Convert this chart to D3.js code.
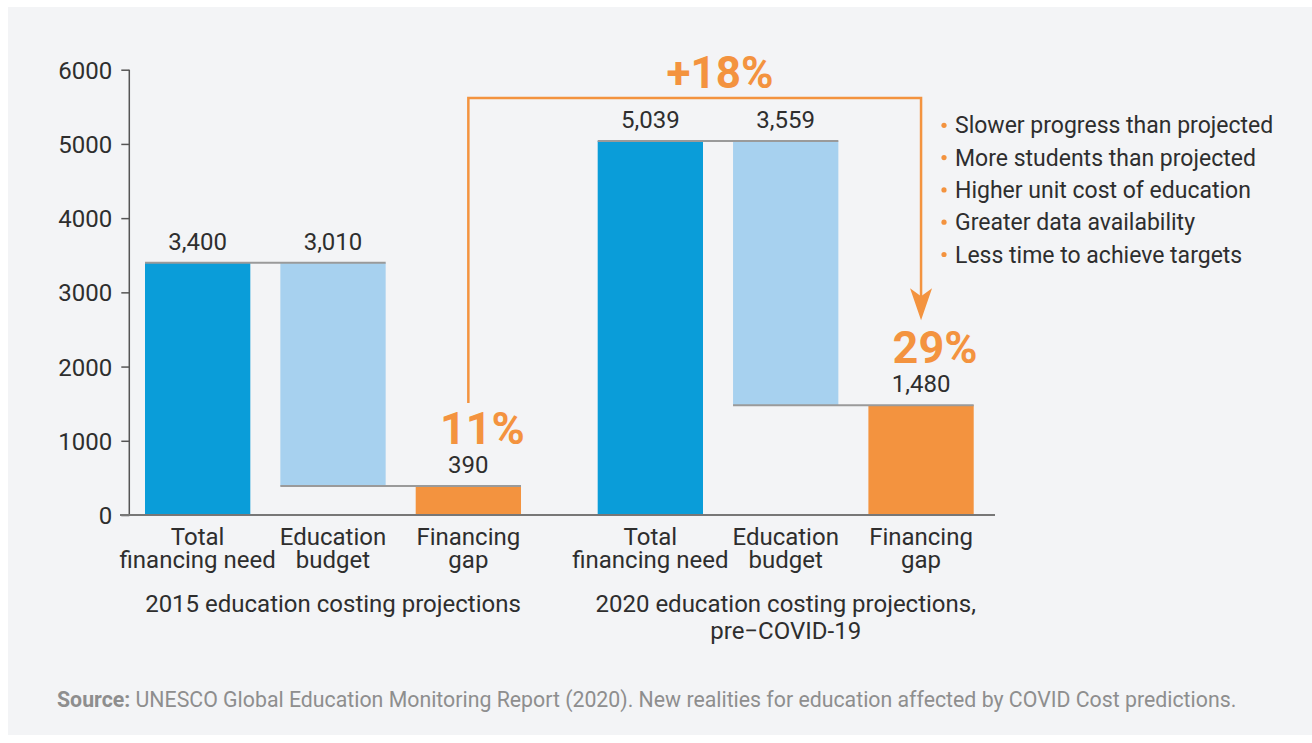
<!DOCTYPE html>
<html>
<head>
<meta charset="utf-8">
<script src="https://cdn.jsdelivr.net/npm/d3@7"></script>
<style>
  html, body { margin: 0; padding: 0; background: #ffffff; }
  svg { display: block; font-family: Roboto, "Noto Sans", sans-serif; }
</style>
</head>
<body>
<svg id="chart" width="1312" height="743"></svg>
<script>
// ---------- data ----------
const groups = ["2015", "2020"];
const groupTitles = [["2015 education costing projections"], ["2020 education costing projections,", "pre\u2212COVID-19"]];
const categories = ["need", "budget", "gap"];
const categoryLabels = [["Total", "financing need"], ["Education", "budget"], ["Financing", "gap"]];
const totalNeed = [3400, 5039];
const eduBudget = [3010, 3559];
const financingGap = [390, 1480];
const gapShare = ["11%", "29%"];
const increaseLabel = "+18%";
const yTicks = [0, 1000, 2000, 3000, 4000, 5000, 6000];
const reasons = [
  "Slower progress than projected",
  "More students than projected",
  "Higher unit cost of education",
  "Greater data availability",
  "Less time to achieve targets"
];
const sourceBold = "Source:";
const sourceText = " UNESCO Global Education Monitoring Report (2020). New realities for education affected by COVID Cost predictions.";

// ---------- style ----------
const C_NEED = "#0a9dd9", C_BUDGET = "#a7d1ef", C_GAP = "#f3933f";
const C_TEXT = "#2e2e2e", C_CONN = "#9a9a9a";
const FS = 24;

const svg = d3.select("#chart");
svg.append("rect").attr("x", 8).attr("y", 7).attr("width", 1304).attr("height", 728).attr("fill", "#f3f4f6");

const y = d3.scaleLinear().domain([0, 6000]).range([515, 69.7]);
const xg = d3.scaleBand().domain(groups).range([145, 973.7]).paddingInner(0.1694).paddingOuter(0);
const xc = d3.scaleBand().domain(categories).range([0, xg.bandwidth()]).paddingInner(0.222).paddingOuter(0);

const rows = groups.map((g, i) => ({
  g, i,
  bars: [
    { c: "need", lo: 0, hi: totalNeed[i], fill: C_NEED, label: d3.format(",")(totalNeed[i]) },
    { c: "budget", lo: financingGap[i], hi: financingGap[i] + eduBudget[i], fill: C_BUDGET, label: d3.format(",")(eduBudget[i]) },
    { c: "gap", lo: 0, hi: financingGap[i], fill: C_GAP, label: d3.format(",")(financingGap[i]) }
  ]
}));

const bx = (g, c) => xg(g) + xc(c);
const bw = xc.bandwidth();

// y axis
const yAxis = d3.axisLeft(y).tickValues(yTicks).tickFormat(d3.format("d")).tickSize(8).tickPadding(9);
const ya = svg.append("g").attr("transform", "translate(129.3,0)").call(yAxis);
ya.select(".domain").attr("stroke", "#555").attr("stroke-width", 1.5).attr("d", `M0,${y(6000)}V${y(0)}`);
ya.selectAll(".tick line").attr("stroke", "#555").attr("stroke-width", 1.5);
ya.selectAll(".tick text").attr("fill", C_TEXT).attr("font-size", FS).attr("font-family", "Roboto").attr("dy", "0.36em");

// bars
rows.forEach(r => {
  const gsel = svg.append("g");
  gsel.selectAll("rect.bar").data(r.bars).join("rect")
    .attr("x", d => bx(r.g, d.c)).attr("width", bw)
    .attr("y", d => y(d.hi)).attr("height", d => y(d.lo) - y(d.hi))
    .attr("fill", d => d.fill);
  gsel.append("line")
    .attr("x1", bx(r.g, "need")).attr("x2", bx(r.g, "budget") + bw)
    .attr("y1", y(totalNeed[r.i])).attr("y2", y(totalNeed[r.i]))
    .attr("stroke", C_CONN).attr("stroke-width", 2);
  gsel.append("line")
    .attr("x1", bx(r.g, "budget")).attr("x2", bx(r.g, "gap") + bw)
    .attr("y1", y(financingGap[r.i])).attr("y2", y(financingGap[r.i]))
    .attr("stroke", C_CONN).attr("stroke-width", 2);
  gsel.selectAll("text.val").data(r.bars).join("text")
    .attr("x", d => bx(r.g, d.c) + bw / 2)
    .attr("y", d => y(d.hi) - 13)
    .attr("text-anchor", "middle").attr("font-size", FS).attr("fill", C_TEXT)
    .text(d => d.label);
  gsel.append("text")
    .attr("x", bx(r.g, "gap") + bw / 2 + 14)
    .attr("y", y(financingGap[r.i]) - 42)
    .attr("text-anchor", "middle").attr("font-size", 45).attr("font-weight", 700).attr("fill", C_GAP)
    .text(gapShare[r.i]);
  categoryLabels.forEach((lines, k) => {
    const t = svg.append("text").attr("text-anchor", "middle").attr("font-size", FS).attr("fill", C_TEXT);
    lines.forEach((ln, j) => {
      t.append("tspan").attr("x", bx(r.g, categories[k]) + bw / 2).attr("y", 545 + j * 22.5).text(ln);
    });
  });
  const gt = svg.append("text").attr("text-anchor", "middle").attr("font-size", FS).attr("fill", C_TEXT);
  groupTitles[r.i].forEach((ln, j) => {
    gt.append("tspan").attr("x", xg(r.g) + xg.bandwidth() / 2).attr("y", 612 + j * 26.5).text(ln);
  });
});

// x baseline
svg.append("line").attr("x1", 120).attr("x2", 995).attr("y1", y(0)).attr("y2", y(0))
  .attr("stroke", "#777").attr("stroke-width", 2);

// arrow annotation
const ax1 = bx("2015", "gap") + bw / 2;
const ax2 = bx("2020", "gap") + bw / 2;
const aTop = y(5620);
const aStart = y(financingGap[0]) - 83;
const aTip = y(financingGap[1]) - 85;
svg.append("path")
  .attr("d", `M${ax1},${aStart}V${aTop}H${ax2}V${aTip - 20}`)
  .attr("fill", "none").attr("stroke", C_GAP).attr("stroke-width", 2.5);
svg.append("path")
  .attr("d", `M${ax2},${aTip}L${ax2 - 11},${aTip - 32}L${ax2},${aTip - 24}L${ax2 + 11},${aTip - 32}Z`)
  .attr("fill", C_GAP);
svg.append("text")
  .attr("x", (bx("2020", "need") + bx("2020", "budget")) / 2 + bw / 2 + 2)
  .attr("y", aTop - 10)
  .attr("text-anchor", "middle").attr("font-size", 44).attr("font-weight", 700).attr("fill", C_GAP)
  .text(increaseLabel);

// reasons list
const lg = svg.append("g").attr("transform", "translate(944,0)");
reasons.forEach((r, i) => {
  const yy = 133.3 + i * 32.3;
  lg.append("circle").attr("cx", 0).attr("cy", yy - 8).attr("r", 2.6).attr("fill", C_GAP);
  lg.append("text").attr("x", 11).attr("y", yy).attr("font-size", 23).attr("fill", C_TEXT).text(r);
});

// source
const st = svg.append("text").attr("x", 57).attr("y", 707).attr("font-size", 21.3).attr("fill", "#8e8e8e");
st.append("tspan").attr("font-weight", 700).text(sourceBold);
st.append("tspan").text(sourceText);
</script>
</body>
</html>
